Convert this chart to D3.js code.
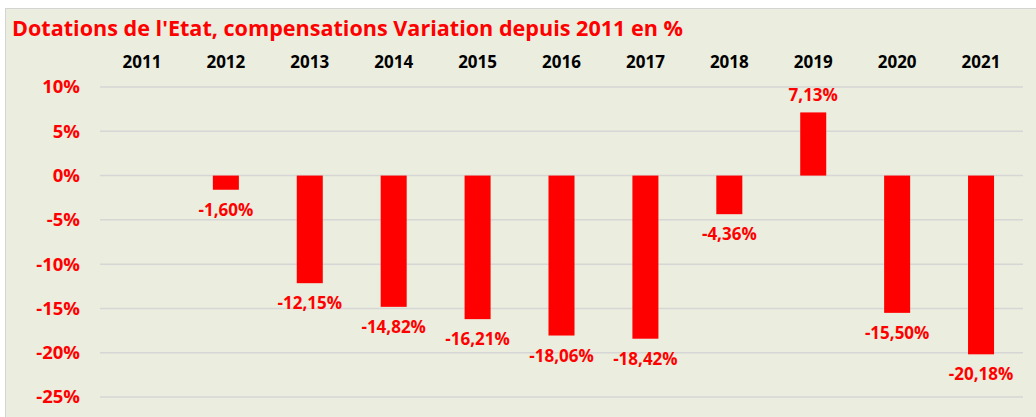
<!DOCTYPE html>
<html>
<head>
<meta charset="utf-8">
<script src="https://cdn.jsdelivr.net/npm/d3@7"></script>
<style>
  body { margin: 0; background: #fff; }
  text { font-family: "Open Sans", "Noto Sans", sans-serif; }
</style>
</head>
<body>
<svg width="1036" height="417"></svg>
<script>
var years = ['2011', '2012', '2013', '2014', '2015', '2016', '2017', '2018', '2019', '2020', '2021'];
var values = [null, -1.60, -12.15, -14.82, -16.21, -18.06, -18.42, -4.36, 7.13, -15.50, -20.18];
var yTicks = [10, 5, 0, -5, -10, -15, -20, -25];

var width = 1036, height = 417;
var margin = { top: 87, bottom: 20, left: 100, right: 13 };

var svg = d3.select('svg');

// fond
svg.append('rect')
  .attr('x', 5.5).attr('y', 8.5)
  .attr('width', width - 5).attr('height', height)
  .attr('fill', '#ebeede')
  .attr('stroke', '#d4d4d4');

svg.append('text')
  .attr('x', 12).attr('y', 36)
  .attr('fill', '#ff0000')
  .attr('font-size', 21.5)
  .attr('font-weight', 'bold')
  .attr('textLength', 671)
  .attr('lengthAdjust', 'spacingAndGlyphs')
  .text("Dotations de l'Etat, compensations Variation depuis 2011 en %");

var xScale = d3.scaleBand()
  .domain(years)
  .range([margin.left, width - margin.right])
  .paddingInner(0.69)
  .paddingOuter(0.345);

var yScale = d3.scaleLinear()
  .domain([10, -25])
  .range([87, 397]);

// grille
svg.append('g')
  .selectAll('line')
  .data(yTicks)
  .enter().append('line')
  .attr('x1', margin.left)
  .attr('x2', width - margin.right)
  .attr('y1', d => yScale(d))
  .attr('y2', d => yScale(d))
  .attr('stroke', '#d6d6d6')
  .attr('stroke-width', 1.5);

var yAxis = d3.axisLeft(yScale)
  .tickValues(yTicks)
  .tickSize(0)
  .tickPadding(0)
  .tickFormat(d => d + '%');

svg.append('g')
  .attr('transform', 'translate(' + [80, 0] + ')')
  .call(yAxis)
  .call(g => g.select('.domain').remove())
  .selectAll('text')
  .attr('fill', '#ff0000')
  .attr('font-size', 18.5)
  .attr('font-weight', 'bold')
  .attr('font-family', '"Open Sans", sans-serif');

var xAxis = d3.axisTop(xScale).tickSize(0).tickPadding(0);

svg.append('g')
  .attr('transform', 'translate(' + [0, 68] + ')')
  .call(xAxis)
  .call(g => g.select('.domain').remove())
  .selectAll('text')
  .attr('fill', '#000')
  .attr('font-size', 17)
  .attr('font-weight', 'bold')
  .attr('font-family', '"Open Sans", sans-serif');

var bars = years.map((y, i) => ({ year: y, val: values[i] })).filter(d => d.val !== null);

svg.selectAll('rect.bar')
  .data(bars)
  .enter().append('rect')
  .attr('class', 'bar')
  .attr('x', d => xScale(d.year))
  .attr('width', xScale.bandwidth())
  .attr('y', d => yScale(Math.max(0, d.val)))
  .attr('height', d => Math.abs(yScale(d.val) - yScale(0)))
  .attr('fill', '#ff0000');

svg.selectAll('text.lbl')
  .data(bars)
  .enter().append('text')
  .attr('class', 'lbl')
  .attr('x', d => xScale(d.year) + xScale.bandwidth() / 2)
  .attr('y', d => d.val < 0 ? yScale(d.val) + 26 : yScale(d.val) - 11)
  .attr('text-anchor', 'middle')
  .attr('fill', '#ff0000')
  .attr('font-size', 17)
  .attr('font-weight', 'bold')
  .text(d => d.val.toFixed(2).replace('.', ',') + '%');
</script>
</body>
</html>
